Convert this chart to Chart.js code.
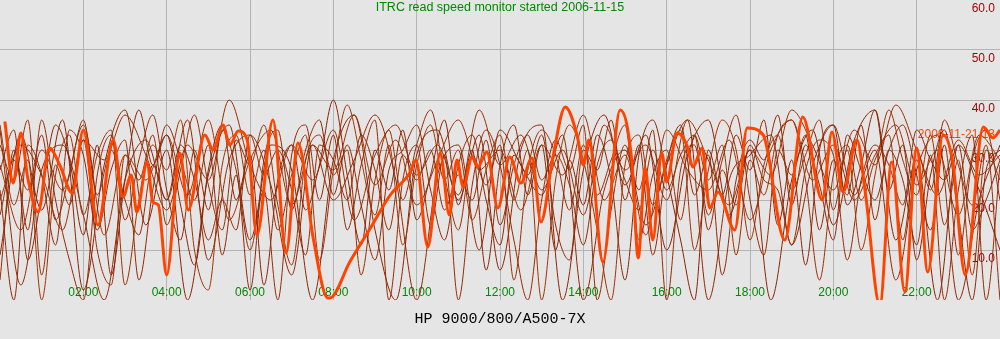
<!DOCTYPE html>
<html><head><meta charset="utf-8">
<script src="https://cdn.jsdelivr.net/npm/chart.js@4"></script>
<style>html,body{margin:0;padding:0;background:#e5e5e5;overflow:hidden}canvas{display:block}</style>
</head><body><canvas id="c" width="1000" height="339"></canvas>
<script>
const titleText = 'ITRC read speed monitor started 2006-11-15';
const axisTitle = 'HP 9000/800/A500-7X';
const todayLabel = '2006-11-21 13';
const xTickLabels = ['', '02:00', '04:00', '06:00', '08:00', '10:00', '12:00', '14:00', '16:00', '18:00', '20:00', '22:00', ''];
const yTickLabels = ['', '10.0', '20.0', '30.0', '40.0', '50.0', '60.0'];

// today's series (minutes since midnight, MB/s)
const todayMinutes = [7,19,30,40,55,71,86,104,120,141,163,177,189,197,212,220,228,240,259,271,295,307,321,331,343,356,370,393,412,429,451,472,475,504,533,562,590,599,616,634,647,658,667,680,688,701,717,734,750,766,779,796,814,831,840,848,868,893,910,919,929,940,953,960,975,989,998,1011,1022,1034,1058,1076,1099,1130,1156,1184,1198,1214,1234,1246,1267,1284,1303,1320,1336,1358,1372,1390,1416,1430,1440];
const todayValues = [35.7,23.4,33.4,24.4,17.6,30.4,27,21.4,34,15,32,20.6,25,17.6,27.6,19.6,19,5,29.4,18,33,30,35,31,33.8,32,13,36,9.4,31.4,12.4,0.4,0.4,7.7,14.3,21,25.4,28,10.6,29.4,17,28,22.6,28.6,26.6,29.6,18.4,28.6,23.4,28.4,15.6,28.4,38.6,33,27,32,7.6,38,27.6,8.4,26.4,12,29.4,23.6,33.4,31,26.6,30.4,18.4,21.6,14,34.4,33,12,36.6,20,33.6,21.6,32,21.6,-1,27.6,1.6,30.4,5.6,33,27.6,5,34.6,32.4,34];

// earlier days, sampled at even intervals across the day
const day1 = [4,30,14,36,20,8,0,25,33,16,28,37,22,12,30,18,34,26,10,22,0,29,35,20,33,14,27,36,0,24,31,15,29,0,23,34,27,12,0,20,32,26,35,0,18,31,22,34,0,26,31,17,28,37,20,9,30,25,33,14,28,21,35,16,30,24,11,29,0,22,33,0,27];
const day2 = [26,34,8,21,35,28,13,31,5,24,38,27,33,19,7,26,35,20,29,3,24,31,18,27,40,25,11,30,22,34,16,25,36,19,30,6,27,35,21,31,10,28,19,33,24,4,29,36,25,12,0,30,21,33,26,36,15,28,7,30,35,19,27,38,22,31,8,25,34,17,0,26,30];
const day3 = [35,19,28,0,25,33,17,29,34,3,20,31,26,36,10,2,27,33,21,30,14,25,33,8,26,39,28,17,31,11,27,35,24,30,16,26,33,20,30,0,24,35,28,14,0,27,33,19,28,34,10,26,36,30,12,27,33,22,29,36,18,30,10,25,38,28,21,33,15,28,5,30,24];
const day4 = [22,0,31,25,11,34,29,14,26,32,4,22,35,28,20,31,9,25,2,28,34,18,30,36,21,31,19,8,26,30,35,22,12,27,33,20,11,29,25,33,15,8,30,26,36,20,31,9,27,35,21,29,5,24,32,28,37,19,31,23,12,33,26,20,30,35,25,14,31,9,28,34,20];
const day5 = [31,24,36,5,27,19,32,10,3,29,24,33,15,26,37,23,14,32,27,35,19,7,28,33,25,30,5,24,34,20,31,38,25,14,29,23,31,4,26,34,29,18,31,21,28,35,12,25,30,16,33,24,31,9,28,21,33,36,24,4,25,31,20,28,33,12,30,22,36,27,19,31,0];
const day6 = [17,28,22,33,16,25,36,21,30,20,13,27,20,31,24,12,20,14,33,25,30,22,9,31,28,20,33,26,14,29,24,30,18,25,20,32,15,27,33,24,29,23,11,27,32,24,18,30,22,29,33,14,26,19,31,24,22,11,26,32,29,8,24,31,27,19,34,28,24,31,14,20,28];
const day7 = [9,33,18,36,2,27,38,15,30,0,25,35,12,31,26,0,28,37,14,0,29,34,20,33,6,30,35,0,26,37,23,33,10,29,36,17,30,0,24,34,15,32,38,12,28,0,31,22,10];
const day8 = [27,14,30,22,35,13,29,24,33,21,36,16,28,34,19,31,26,37,23,32,19,28,36,26,30,18,31,25,37,20,29,13,34,26,22,32,16,30,36,24,31,20,29,35,23,30,17,33,28];
const day9 = [34,3,26,31,17,0,24,32,20,36,8,28,33,23,5,31,20,28,37,24,0,25,31,10,34,27,21,33,0,22,30,15,27,36,0,24,29,33,11,27,35,21,30,4,26,33,0,20,31];
const day10 = [20,31,25,14,32,28,37,29,18,31,24,40,27,20,31,24,34,16,29,35,25,31,21,38,27,33,22,30,17,35,26,31,20,36,28,19,30,25,38,31,22,34,27,39,30,21,32,25,29];

const pastDays = [day1, day2, day3, day4, day5, day6, day7, day8, day9, day10];
const brownShades = ['#962800', '#8a2200', '#a03000', '#912600', '#9a2c00'];

const datasets = [{
  data: todayMinutes.map((m, i) => ({x: m, y: todayValues[i]})),
  borderColor: '#ff4400', borderWidth: 3, pointRadius: 0, cubicInterpolationMode: 'monotone', fill: false
}];
pastDays.forEach((arr, k) => {
  datasets.push({
    data: arr.map((v, i) => ({x: i * 1440 / (arr.length - 1), y: v})),
    borderColor: brownShades[k % brownShades.length], borderWidth: 1, pointRadius: 0,
    cubicInterpolationMode: 'monotone', fill: false
  });
});

const todayLabelPlugin = {
  id: 'todayLabel',
  beforeDatasetsDraw(chart) {
    const {ctx, scales: {x, y}} = chart;
    ctx.save();
    ctx.font = '12px "Liberation Sans"';
    ctx.fillStyle = '#ff4400';
    ctx.textAlign = 'right';
    ctx.textBaseline = 'middle';
    ctx.fillText(todayLabel, x.right - 5, y.getPixelForValue(33));
    ctx.restore();
  }
};

Chart.defaults.font.family = '"Liberation Sans", Arial, sans-serif';
new Chart(document.getElementById('c'), {
  type: 'line',
  data: {datasets},
  plugins: [todayLabelPlugin],
  options: {
    responsive: false, animation: false, devicePixelRatio: 1,
    layout: {padding: 0},
    plugins: {
      legend: {display: false}, tooltip: {enabled: false},
      title: {display: true, text: titleText, color: '#008800',
        font: {size: 12.5, weight: 'normal', lineHeight: 1.2}, padding: {top: 0, bottom: -15}}
    },
    scales: {
      x: {
        type: 'linear', min: 0, max: 1440, position: 'bottom',
        ticks: {stepSize: 120, mirror: true, padding: 0, color: '#008800', font: {size: 12}, maxRotation: 0, autoSkip: false,
          callback: (v, i) => xTickLabels[i]},
        grid: {drawTicks: false, lineWidth: 1, color: c => (c.tick && (c.tick.value === 0 || c.tick.value === 1440)) ? 'rgba(0,0,0,0)' : '#b4b4b4'},
        border: {display: false},
        title: {display: true, text: axisTitle, color: '#000000', font: {family: '"Liberation Mono", monospace', size: 15}, padding: {top: 10, bottom: 11}},
        afterFit: s => { s.height = 39; }
      },
      y: {
        position: 'right', min: 0, max: 60,
        ticks: {stepSize: 10, mirror: true, padding: -5, align: 'start', labelOffset: 3, color: '#990000', font: {size: 12},
          callback: (v, i) => yTickLabels[i]},
        grid: {drawTicks: false, lineWidth: 1, color: c => (c.tick && (c.tick.value === 0 || c.tick.value === 60)) ? 'rgba(0,0,0,0)' : '#b4b4b4'},
        border: {display: false},
        afterFit: s => { s.width = 0; }
      }
    }
  }
});
</script></body></html>
